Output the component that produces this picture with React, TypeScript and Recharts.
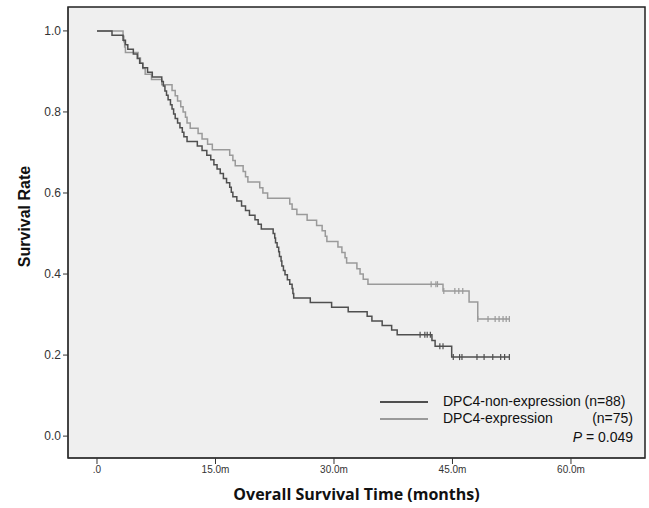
import React from "react";
import { ComposedChart, Line, Scatter, XAxis, YAxis, ReferenceArea } from "recharts";

// DPC4-non-expression (n=88): event times (months) and survival after each step
const darkTimes = [0, 1.9, 3.3, 3.6, 3.9, 4.6, 5.1, 5.4, 5.8, 6.4, 7.0, 8.2, 8.4, 8.6, 8.8, 9.0, 9.3, 9.5, 9.7, 9.9, 10.2, 10.5, 10.8, 11.0, 11.4, 12.7, 13.3, 13.9, 14.4, 14.8, 15.2, 15.6, 16.0, 16.4, 16.8, 17.0, 17.2, 17.7, 18.3, 18.8, 19.3, 20.0, 20.4, 20.8, 22.3, 22.5, 22.6, 22.8, 23.0, 23.1, 23.3, 23.4, 23.6, 23.8, 24.1, 24.4, 24.7, 24.8, 24.9, 27.0, 29.7, 31.8, 34.2, 34.8, 36.1, 37.3, 38.0, 42.4, 42.8, 44.9, 52.2];
const darkSurv = [1.0, 0.989, 0.977, 0.966, 0.955, 0.943, 0.932, 0.92, 0.909, 0.898, 0.886, 0.875, 0.864, 0.852, 0.841, 0.83, 0.818, 0.807, 0.795, 0.784, 0.773, 0.761, 0.75, 0.739, 0.727, 0.716, 0.705, 0.693, 0.682, 0.67, 0.659, 0.648, 0.636, 0.625, 0.614, 0.602, 0.591, 0.58, 0.568, 0.557, 0.545, 0.534, 0.523, 0.511, 0.5, 0.489, 0.477, 0.466, 0.455, 0.443, 0.432, 0.42, 0.409, 0.398, 0.386, 0.375, 0.364, 0.352, 0.341, 0.33, 0.318, 0.307, 0.296, 0.284, 0.273, 0.262, 0.25, 0.236, 0.222, 0.195, 0.195];
const darkCensor = [40.9, 41.5, 41.8, 42.2, 43.4, 43.8, 45.1, 45.9, 46.2, 48.1, 49.0, 50.1, 51.1, 51.6, 52.2];

// DPC4-expression (n=75)
const lightTimes = [0, 3.3, 3.4, 3.5, 3.6, 5.2, 5.5, 5.8, 6.1, 6.9, 8.2, 9.5, 9.9, 10.2, 10.6, 10.9, 11.2, 11.4, 11.8, 12.8, 13.3, 14.0, 14.6, 16.8, 17.2, 17.5, 18.5, 18.8, 19.1, 20.6, 21.0, 21.6, 24.4, 24.7, 25.3, 26.6, 27.8, 28.5, 28.9, 29.1, 30.5, 31.0, 31.4, 31.6, 32.9, 33.3, 33.7, 34.3, 43.8, 47.1, 48.2, 52.2];
const lightSurv = [1.0, 0.987, 0.973, 0.96, 0.947, 0.933, 0.92, 0.907, 0.893, 0.88, 0.867, 0.853, 0.84, 0.827, 0.813, 0.8, 0.787, 0.773, 0.76, 0.747, 0.733, 0.72, 0.707, 0.693, 0.68, 0.667, 0.653, 0.64, 0.627, 0.613, 0.6, 0.587, 0.573, 0.56, 0.547, 0.533, 0.52, 0.507, 0.493, 0.48, 0.467, 0.453, 0.44, 0.427, 0.413, 0.4, 0.387, 0.375, 0.358, 0.331, 0.289, 0.289];
const lightCensor = [42.3, 42.9, 43.1, 43.9, 45.3, 45.8, 46.3, 48.2, 49.5, 50.4, 50.9, 51.4, 51.8, 52.2];

const xTicks = [0, 15, 30, 45, 60];
const yTicks = [0, 0.2, 0.4, 0.6, 0.8, 1.0];
const xDomain = [-3.67, 69.37];
const yDomain = [-0.054, 1.059];

const darkColor = "#4f4f4f";
const lightColor = "#9a9a9a";

function survAt(times: number[], surv: number[], t: number) {
  let s = surv[0];
  for (let i = 0; i < times.length; i++) if (times[i] <= t) s = surv[i];
  return s;
}

const darkData = darkTimes.map((t, i) => ({ t, s: darkSurv[i] }));
const lightData = lightTimes.map((t, i) => ({ t, s: lightSurv[i] }));
const darkMarks = darkCensor.map((t) => ({ t, s: survAt(darkTimes, darkSurv, t) }));
const lightMarks = lightCensor.map((t) => ({ t, s: survAt(lightTimes, lightSurv, t) }));

const tick = (color: string) => (props: any) => (
  <line x1={props.cx} x2={props.cx} y1={props.cy - 3} y2={props.cy + 3} stroke={color} strokeWidth={1.2} />
);

function LegendBox() {
  const font = { fontFamily: "'Liberation Sans', Arial, sans-serif", fontSize: 14, color: "#111", lineHeight: "17px" };
  const row = { display: "flex", alignItems: "center", height: 17 } as const;
  return (
    <div style={{ position: "absolute", left: 380, top: 393, width: 253, ...font }}>
      <div style={row}>
        <div style={{ width: 48, borderTop: `2px solid ${darkColor}`, marginRight: 15, flexShrink: 0 }} />
        <span style={{ whiteSpace: "nowrap" }}>DPC4-non-expression (n=88)</span>
      </div>
      <div style={row}>
        <div style={{ width: 48, borderTop: `2px solid ${lightColor}`, marginRight: 15, flexShrink: 0 }} />
        <span style={{ flex: 1 }}>DPC4-expression</span>
        <span>(n=75)</span>
      </div>
      <div style={{ ...row, justifyContent: "flex-end", marginTop: 2 }}>
        <span><i>P</i> = 0.049</span>
      </div>
    </div>
  );
}

const yTitle = (props: any) => {
  const vb = props.viewBox;
  const x = 24;
  const y = vb.y + vb.height / 2 - 16;
  return (
    <text x={x} y={y} transform={`rotate(-90, ${x}, ${y})`} textAnchor="middle" dominantBaseline="central"
      style={{ fontFamily: "'Liberation Sans', Arial, sans-serif", fontWeight: 700, fontSize: 16, fill: "#111" }}>
      Survival Rate
    </text>
  );
};

export default function App() {
  const tickFont = { fontFamily: "'Liberation Sans', Arial, sans-serif", fill: "#333" };
  return (
    <div style={{ position: "absolute", left: 0, top: 0, width: 649, height: 508, background: "#fff" }}>
      <ComposedChart width={649} height={508} margin={{ top: 7, right: 4, bottom: 0, left: 0 }}>
        <XAxis
          type="number"
          dataKey="t"
          domain={xDomain}
          ticks={xTicks}
          allowDataOverflow
          height={50}
          tickSize={6}
          stroke="#333"
          tickFormatter={(v: number) => (v === 0 ? ".0" : `${v.toFixed(1)}m`)}
          tick={{ ...tickFont, fontSize: 10 }}
          label={{ value: "Overall Survival Time (months)", position: "insideBottom", offset: 8, style: { fontFamily: "'Open Sans', sans-serif", fontWeight: 700, fontSize: 16, fill: "#111" } }}
        />
        <YAxis
          type="number"
          dataKey="s"
          domain={yDomain}
          ticks={yTicks}
          allowDataOverflow
          width={68}
          tickSize={5}
          stroke="#333"
          tickFormatter={(v: number) => v.toFixed(1)}
          tick={{ ...tickFont, fontSize: 12 }}
          label={yTitle}
        />
        <ReferenceArea x1={xDomain[0]} x2={xDomain[1]} y1={yDomain[0]} y2={yDomain[1]} fill="#efefef" fillOpacity={1} stroke="#222" strokeWidth={1.5} ifOverflow="visible" />
        <Line data={lightData} dataKey="s" type="stepAfter" stroke={lightColor} strokeWidth={1.5} dot={false} isAnimationActive={false} />
        <Line data={darkData} dataKey="s" type="stepAfter" stroke={darkColor} strokeWidth={1.5} dot={false} isAnimationActive={false} />
        <Scatter data={lightMarks} dataKey="s" shape={tick(lightColor)} isAnimationActive={false} />
        <Scatter data={darkMarks} dataKey="s" shape={tick(darkColor)} isAnimationActive={false} />
      </ComposedChart>
      <LegendBox />
    </div>
  );
}
